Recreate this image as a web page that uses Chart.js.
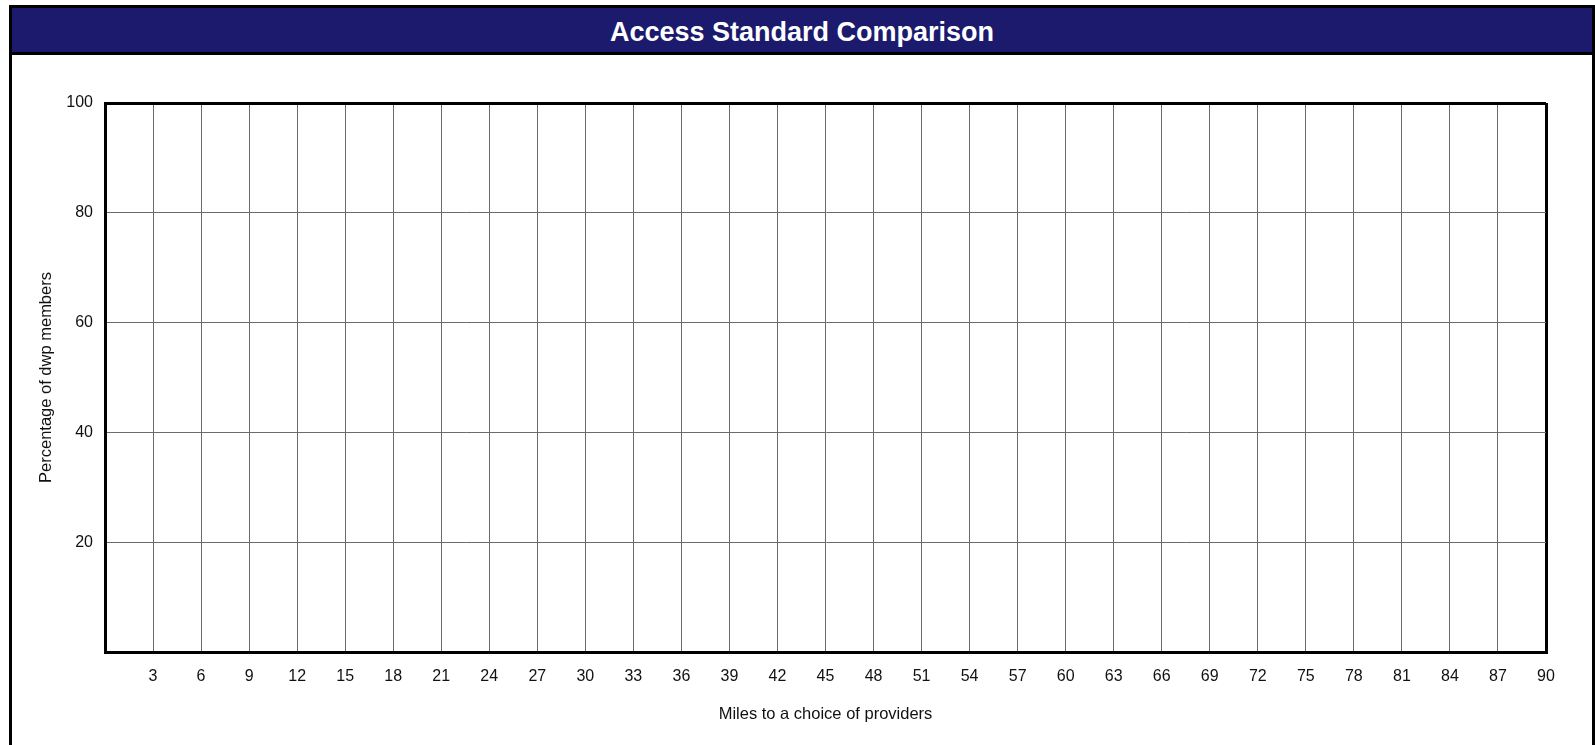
<!DOCTYPE html>
<html>
<head>
<meta charset="utf-8">
<title>Access Standard Comparison</title>
<script src="https://cdn.jsdelivr.net/npm/chart.js@4.4.1/dist/chart.umd.min.js"></script>
<style>
  html, body { margin: 0; padding: 0; background: #fff; overflow: hidden; }
  body { width: 1595px; height: 745px; position: relative; }
  #frame {
    position: absolute; left: 9px; top: 5px; width: 1580px; height: 800px;
    border: 3px solid #000; border-bottom: none; background: #fff;
  }
  #header {
    font: bold 27px "Liberation Sans", Arial, sans-serif;
    height: 44px; line-height: 48px; background: #1b1a6d; color: #fff;
    border-bottom: 3px solid #000; text-align: center;
  }
  #chart { position: absolute; left: 0; top: 0; z-index: 1; }
</style>
</head>
<body>
<div id="frame"><div id="header">Access Standard Comparison</div></div>
<canvas id="chart" width="1595" height="745"></canvas>
<script>
// tick values (the chart has no plotted series)
const milesTicks = [0, 3, 6, 9, 12, 15, 18, 21, 24, 27, 30, 33, 36, 39, 42, 45, 48, 51, 54, 57, 60, 63, 66, 69, 72, 75, 78, 81, 84, 87, 90];
const percentTicks = [0, 20, 40, 60, 80, 100];
const accessPoints = [];

const tickFont = { family: '"Liberation Sans", Arial, sans-serif', size: 16 };
const titleFont = { family: '"Liberation Sans", Arial, sans-serif', size: 16.5 };

// outer lines of the plot are black and heavy, inner grid is grey
function edgeColor(edges) {
  return ctx => edges.includes(ctx.tick.value) ? '#000' : '#6a6a6a';
}
function edgeWidth(edges) {
  return ctx => edges.includes(ctx.tick.value) ? 3 : 1;
}

const ctx = document.getElementById('chart').getContext('2d');
new Chart(ctx, {
  type: 'scatter',
  data: {
    datasets: [{ label: 'Access', data: accessPoints, borderColor: '#1b1a6d', backgroundColor: '#1b1a6d' }]
  },
  options: {
    responsive: false,
    animation: false,
    layout: { padding: { top: 103, left: 25, right: 49, bottom: 0 } },
    plugins: {
      legend: { display: false },
      tooltip: { enabled: false }
    },
    scales: {
      x: {
        type: 'linear',
        min: milesTicks[0],
        max: milesTicks[milesTicks.length - 1],
        afterBuildTicks: scale => { scale.ticks = milesTicks.map(v => ({ value: v })); },
        afterFit: scale => { scale.height = 93; },
        grid: { drawTicks: false, color: edgeColor([0, 90]), lineWidth: edgeWidth([0, 90]) },
        border: { display: true, color: '#000', width: 3 },
        ticks: {
          padding: 15,
          color: '#111',
          font: tickFont,
          maxRotation: 0,
          autoSkip: false,
          callback: v => v === 0 ? '' : v
        },
        title: {
          display: true,
          text: 'Miles to a choice of providers',
          color: '#111',
          font: titleFont,
          padding: { top: 0, bottom: 21 }
        }
      },
      y: {
        type: 'linear',
        min: percentTicks[0],
        max: percentTicks[percentTicks.length - 1],
        afterBuildTicks: scale => { scale.ticks = percentTicks.map(v => ({ value: v })); },
        afterFit: scale => { scale.width = 80; },
        grid: { drawTicks: false, color: edgeColor([0, 100]), lineWidth: edgeWidth([0, 100]) },
        border: { display: true, color: '#000', width: 3 },
        ticks: {
          padding: 12,
          color: '#111',
          font: tickFont,
          autoSkip: false,
          callback: v => v === 0 ? '' : v
        },
        title: {
          display: true,
          text: 'Percentage of dwp members',
          color: '#111',
          font: titleFont,
          padding: { top: 12, bottom: 0 }
        }
      }
    }
  }
});
</script>
</body>
</html>
